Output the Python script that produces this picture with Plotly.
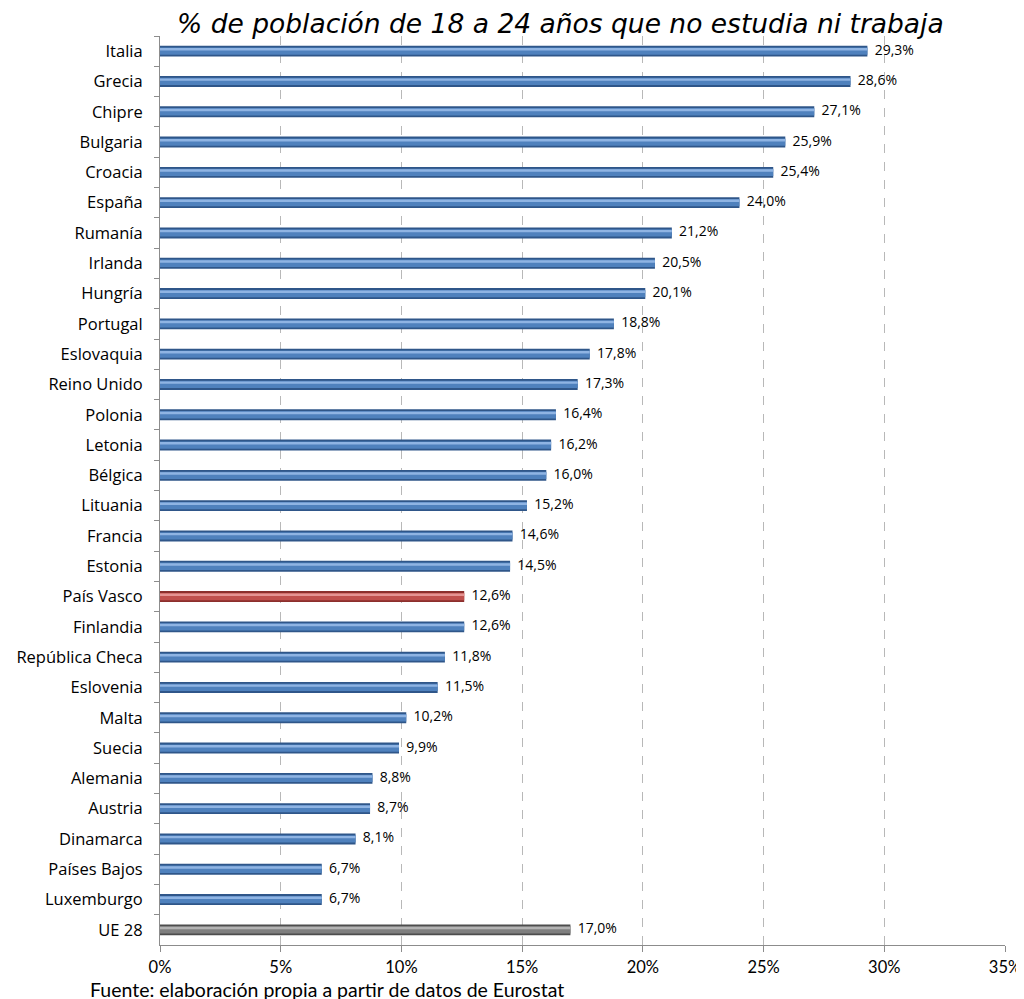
import plotly.graph_objects as go

# Data (top to bottom)
countries = [
    "Italia", "Grecia", "Chipre", "Bulgaria", "Croacia", "España", "Rumanía",
    "Irlanda", "Hungría", "Portugal", "Eslovaquia", "Reino Unido", "Polonia",
    "Letonia", "Bélgica", "Lituania", "Francia", "Estonia", "País Vasco",
    "Finlandia", "República Checa", "Eslovenia", "Malta", "Suecia", "Alemania",
    "Austria", "Dinamarca", "Países Bajos", "Luxemburgo", "UE 28",
]
values = [
    29.3, 28.6, 27.1, 25.9, 25.4, 24.0, 21.2, 20.5, 20.1, 18.8, 17.8, 17.3,
    16.4, 16.2, 16.0, 15.2, 14.6, 14.5, 12.6, 12.6, 11.8, 11.5, 10.2, 9.9,
    8.8, 8.7, 8.1, 6.7, 6.7, 17.0,
]
x_ticks = [0, 5, 10, 15, 20, 25, 30, 35]

# Excel-like palette: dark edge + lighter core to fake the bevel look
DARK = {"default": "#2f5689", "País Vasco": "#8c2f2c", "UE 28": "#4d4d4d"}
MID = {"default": "#4f81bd", "País Vasco": "#c0504d", "UE 28": "#7f7f7f"}
LIGHT = {"default": "#8fb4e3", "País Vasco": "#e59492", "UE 28": "#b3b3b3"}

LABEL_FONT = "Open Sans, Lato, sans-serif"
NARROW_FONT = "Liberation Sans Narrow, Lato, sans-serif"


def pick(palette, name):
    return palette.get(name, palette["default"])


labels = ["  " + f"{v:.1f}%".replace(".", ",") for v in values]

fig = go.Figure()
fig.add_trace(
    go.Bar(
        x=values,
        y=countries,
        orientation="h",
        width=0.36,
        marker={"color": [pick(DARK, c) for c in countries], "line": {"width": 0}},
        hoverinfo="skip",
    )
)
fig.add_trace(
    go.Bar(
        x=values,
        y=countries,
        orientation="h",
        width=0.24,
        marker={"color": [pick(MID, c) for c in countries], "line": {"width": 0}},
        hoverinfo="skip",
    )
)
fig.add_trace(
    go.Bar(
        x=values,
        y=countries,
        orientation="h",
        width=0.08,
        offset=-0.1,
        marker={"color": [pick(LIGHT, c) for c in countries], "line": {"width": 0}},
        hoverinfo="skip",
    )
)
# value labels
fig.add_trace(
    go.Scatter(
        x=values,
        y=countries,
        mode="text",
        text=labels,
        textposition="middle right",
        textfont={"family": LABEL_FONT, "size": 14, "color": "#000"},
        cliponaxis=False,
        hoverinfo="skip",
    )
)

# page body adds an 8px margin, so the figure is sized/offset to compensate
fig.update_layout(
    width=1008,
    height=991,
    barmode="overlay",
    showlegend=False,
    plot_bgcolor="white",
    paper_bgcolor="white",
    margin={"l": 152, "r": 11, "t": 28, "b": 54},
    title={
        "text": "<i>% de población de 18 a 24 años que no estudia ni trabaja</i>",
        "font": {"family": "DejaVu Sans, Verdana, sans-serif", "size": 26.5, "color": "#000"},
        "x": 0.548,
        "xanchor": "center",
        "y": 0.984,
        "yanchor": "middle",
    },
    xaxis={
        "range": [0, 35],
        "tickvals": x_ticks,
        "ticktext": [f"{t}%" for t in x_ticks],
        "showgrid": True,
        "gridcolor": "#b8b8b8",
        "griddash": "dash",
        "gridwidth": 1,
        "showline": True,
        "linecolor": "#8c8c8c",
        "linewidth": 1,
        "ticks": "outside",
        "ticklen": 6,
        "tickcolor": "#8c8c8c",
        "ticklabelstandoff": 1,
        "ticklabeloverflow": "allow",
        "tickfont": {"family": NARROW_FONT, "size": 16.5, "color": "#000"},
        "zeroline": False,
        "automargin": False,
    },
    yaxis={
        "range": [len(countries) - 0.5, -0.5],
        "type": "category",
        "showline": True,
        "linecolor": "#8c8c8c",
        "linewidth": 1,
        "ticks": "outside",
        "tickson": "boundaries",
        "ticklen": 5,
        "tickcolor": "#8c8c8c",
        "ticklabelstandoff": 13,
        "tickfont": {"family": LABEL_FONT, "size": 16.5, "color": "#000"},
        "showgrid": False,
        "automargin": False,
    },
)

fig.add_annotation(
    text="Fuente: elaboración propia a partir de datos de Eurostat",
    xref="paper",
    yref="paper",
    x=-0.085,
    y=-0.049,
    xanchor="left",
    yanchor="middle",
    showarrow=False,
    font={"family": NARROW_FONT, "size": 19.5, "color": "#000"},
)

fig.write_html("out.html")
